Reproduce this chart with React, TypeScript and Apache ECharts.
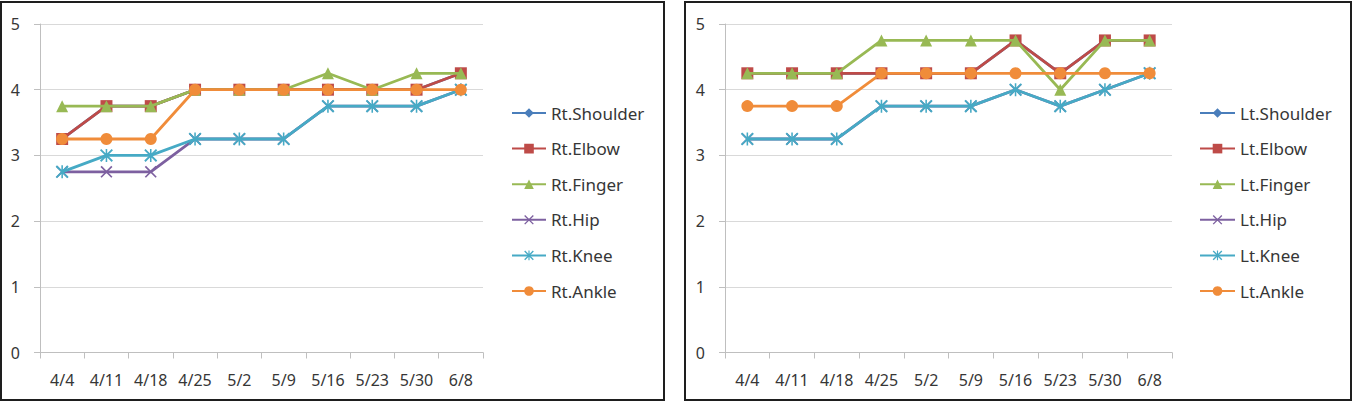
import React, { useEffect, useRef } from "react";
import * as echarts from "echarts";

const categories = ["4/4", "4/11", "4/18", "4/25", "5/2", "5/9", "5/16", "5/23", "5/30", "6/8"];
const yTicks = [0, 1, 2, 3, 4, 5];

const rtShoulder = [3.25, 3.75, 3.75, 4, 4, 4, 4, 4, 4, 4.25];
const rtElbow = [3.25, 3.75, 3.75, 4, 4, 4, 4, 4, 4, 4.25];
const rtFinger = [3.75, 3.75, 3.75, 4, 4, 4, 4.25, 4, 4.25, 4.25];
const rtHip = [2.75, 2.75, 2.75, 3.25, 3.25, 3.25, 3.75, 3.75, 3.75, 4];
const rtKnee = [2.75, 3, 3, 3.25, 3.25, 3.25, 3.75, 3.75, 3.75, 4];
const rtAnkle = [3.25, 3.25, 3.25, 4, 4, 4, 4, 4, 4, 4];

const ltShoulder = [4.25, 4.25, 4.25, 4.25, 4.25, 4.25, 4.75, 4.25, 4.75, 4.75];
const ltElbow = [4.25, 4.25, 4.25, 4.25, 4.25, 4.25, 4.75, 4.25, 4.75, 4.75];
const ltFinger = [4.25, 4.25, 4.25, 4.75, 4.75, 4.75, 4.75, 4, 4.75, 4.75];
const ltHip = [3.25, 3.25, 3.25, 3.75, 3.75, 3.75, 4, 3.75, 4, 4.25];
const ltKnee = [3.25, 3.25, 3.25, 3.75, 3.75, 3.75, 4, 3.75, 4, 4.25];
const ltAnkle = [3.75, 3.75, 3.75, 4.25, 4.25, 4.25, 4.25, 4.25, 4.25, 4.25];

const rtNames = ["Rt.Shoulder", "Rt.Elbow", "Rt.Finger", "Rt.Hip", "Rt.Knee", "Rt.Ankle"];
const ltNames = ["Lt.Shoulder", "Lt.Elbow", "Lt.Finger", "Lt.Hip", "Lt.Knee", "Lt.Ankle"];

const FONT = "'Noto Sans', sans-serif";
const TEXT = "#363636";

const X_PATH = "path://M0,1 L1,0 L10,9 L9,10 Z M9,0 L10,1 L1,10 L0,9 Z";
const STAR_PATH =
  "path://M0,1 L1,0 L10,9 L9,10 Z M9,0 L10,1 L1,10 L0,9 Z M4.4,0 L5.6,0 L5.6,10 L4.4,10 Z";

const styles = [
  { color: "#4A7EBB", symbol: "diamond", size: 8 },
  { color: "#BE4B48", symbol: "rect", size: 12 },
  { color: "#98B954", symbol: "triangle", size: 12 },
  { color: "#7D60A0", symbol: X_PATH, size: 12 },
  { color: "#46AAC5", symbol: STAR_PATH, size: 13 },
  { color: "#F08C3A", symbol: "circle", size: 12 },
];

function makeSeries(names: string[], data: number[][], idx: number) {
  return names.map((name, i) => ({
    name,
    type: "line",
    xAxisIndex: idx,
    yAxisIndex: idx,
    data: data[i],
    symbol: styles[i].symbol,
    symbolSize: styles[i].size,
    showAllSymbol: true,
    lineStyle: { color: styles[i].color, width: 2.8 },
    itemStyle: { color: styles[i].color },
    z: 2 + i,
  }));
}

function xAxis(idx: number) {
  return {
    type: "category",
    gridIndex: idx,
    data: categories,
    boundaryGap: true,
    axisLine: { show: true, lineStyle: { color: "#bfbfbf", width: 1 } },
    axisTick: { show: true, length: 6, lineStyle: { color: "#bfbfbf" } },
    axisLabel: { color: TEXT, fontFamily: FONT, fontSize: 16, margin: 19, interval: 0 },
    splitLine: { show: false },
  };
}

function yAxis(idx: number) {
  return {
    type: "value",
    gridIndex: idx,
    min: yTicks[0],
    max: yTicks[yTicks.length - 1],
    interval: 1,
    axisLine: { show: true, lineStyle: { color: "#bfbfbf", width: 1 } },
    axisTick: { show: true, length: 6, lineStyle: { color: "#bfbfbf" } },
    axisLabel: { color: TEXT, fontFamily: FONT, fontSize: 16, margin: 20 },
    splitLine: { show: true, lineStyle: { color: "#d9d9d9", width: 1 } },
  };
}

function legend(names: string[], left: number, itemWidth: number) {
  return {
    data: names,
    orient: "vertical",
    left,
    top: 103,
    padding: 0,
    itemWidth,
    itemHeight: 12,
    itemGap: 15.6,
    textStyle: { color: TEXT, fontFamily: FONT, fontSize: 17, lineHeight: 20 },
    selectedMode: false,
  };
}

export default function App() {
  const ref = useRef<HTMLDivElement>(null);
  useEffect(() => {
    if (!ref.current) return;
    const chart = echarts.init(ref.current, null, { renderer: "svg" });
    chart.setOption({
      animation: false,
      backgroundColor: "#ffffff",
      grid: [
        { left: 40, top: 24, width: 443, height: 328.5 },
        { left: 725, top: 24, width: 447, height: 328.5 },
      ],
      xAxis: [xAxis(0), xAxis(1)],
      yAxis: [yAxis(0), yAxis(1)],
      legend: [legend(rtNames, 511, 34), legend(ltNames, 1199, 35)],
      graphic: [
        {
          type: "rect",
          shape: { x: 1, y: 2, width: 663, height: 398 },
          style: { fill: "none", stroke: "#1e1e1e", lineWidth: 2 },
          z: 100,
          silent: true,
        },
        {
          type: "rect",
          shape: { x: 685, y: 2, width: 666, height: 398 },
          style: { fill: "none", stroke: "#1e1e1e", lineWidth: 2 },
          z: 100,
          silent: true,
        },
      ],
      series: [
        ...makeSeries(rtNames, [rtShoulder, rtElbow, rtFinger, rtHip, rtKnee, rtAnkle], 0),
        ...makeSeries(ltNames, [ltShoulder, ltElbow, ltFinger, ltHip, ltKnee, ltAnkle], 1),
      ],
    });
    return () => chart.dispose();
  }, []);
  return (
    <div
      ref={ref}
      style={{ position: "fixed", left: 0, top: 0, width: 1356, height: 402, background: "#fff" }}
    />
  );
}
